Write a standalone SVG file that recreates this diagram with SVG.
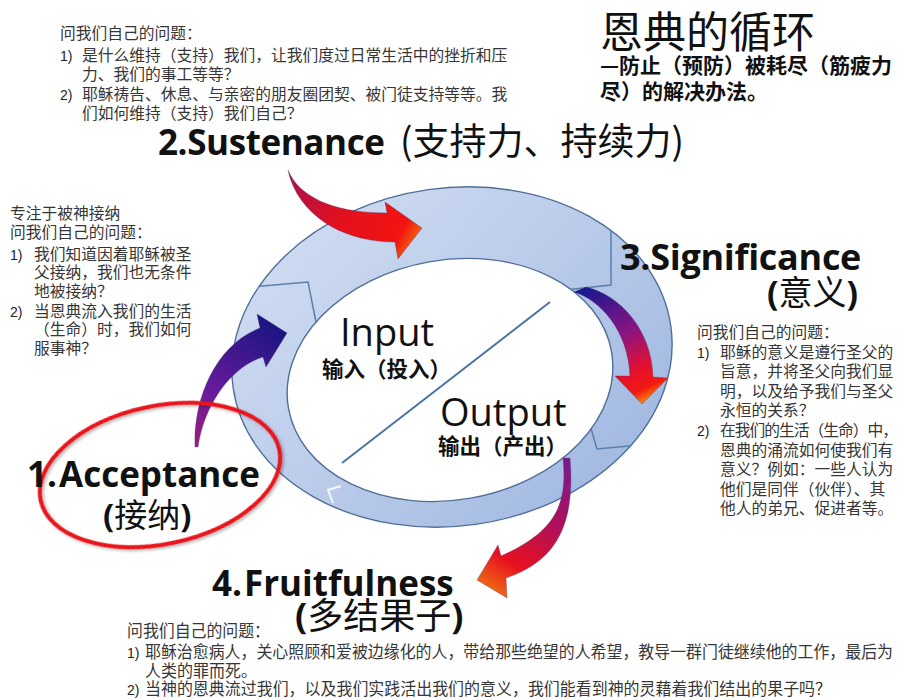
<svg xmlns="http://www.w3.org/2000/svg" width="900" height="699" viewBox="0 0 900 699">
  <defs>
    <linearGradient id="ringFill" x1="0" y1="0" x2="1" y2="1">
      <stop offset="0" stop-color="#d4dff2"/>
      <stop offset="0.5" stop-color="#bacbea"/>
      <stop offset="1" stop-color="#9ab3de"/>
    </linearGradient>
    <linearGradient id="gradAccept" gradientUnits="userSpaceOnUse" x1="196" y1="447" x2="285" y2="333">
      <stop offset="0" stop-color="#a01c7c"/>
      <stop offset="0.35" stop-color="#6a1c9c"/>
      <stop offset="1" stop-color="#1c1482"/>
    </linearGradient>
    <linearGradient id="gradSustain" gradientUnits="userSpaceOnUse" x1="288" y1="172" x2="420" y2="245">
      <stop offset="0" stop-color="#a8104c"/>
      <stop offset="0.45" stop-color="#e2101e"/>
      <stop offset="0.85" stop-color="#f21410"/>
      <stop offset="1" stop-color="#f27a12"/>
    </linearGradient>
    <linearGradient id="gradSignif" gradientUnits="userSpaceOnUse" x1="585" y1="290" x2="642" y2="404">
      <stop offset="0" stop-color="#1c1890"/>
      <stop offset="0.45" stop-color="#8c1482"/>
      <stop offset="0.75" stop-color="#e6102c"/>
      <stop offset="0.9" stop-color="#f21a10"/>
      <stop offset="1" stop-color="#f58a12"/>
    </linearGradient>
    <linearGradient id="gradFruit" gradientUnits="userSpaceOnUse" x1="566" y1="460" x2="485" y2="592">
      <stop offset="0" stop-color="#7c1a8c"/>
      <stop offset="0.4" stop-color="#b0105a"/>
      <stop offset="0.75" stop-color="#e81020"/>
      <stop offset="1" stop-color="#f07412"/>
    </linearGradient>
    <clipPath id="ringClip">
      <ellipse cx="452" cy="357" rx="221" ry="169" transform="rotate(-8 452 357)"/>
    </clipPath>
    <filter id="shadow" x="-20%" y="-20%" width="140%" height="140%">
      <feDropShadow dx="1.5" dy="2" stdDeviation="1.5" flood-color="#000" flood-opacity="0.3"/>
    </filter>
  </defs>
  <style>
    .body { font-family: "Noto Sans CJK SC", sans-serif; font-size: 15.75px; fill: #363636; }
    .cond { font-family: "Noto Sans CJK SC", sans-serif; font-size: 16.5px; fill: #363636; }
    .num { font-family: "Liberation Sans", sans-serif; font-size: 14px; fill: #222; }
    .label { font-family: "Open Sans", "Noto Sans CJK SC", sans-serif; font-weight: 700; fill: #111; }
    .cjk { font-family: "Noto Sans CJK SC", sans-serif; fill: #111; }
    .paren { font-family: "Open Sans", sans-serif; font-weight: 700; }
    .io { font-family: "Open Sans", sans-serif; font-size: 38px; fill: #111; }
    .seg { fill: none; stroke: #5a7fae; stroke-width: 1.5; }
    .rim { stroke: #4f6f98; stroke-width: 1.4; }
    .arrow { stroke: rgba(70, 60, 110, 0.45); stroke-width: 0.8; }
  </style>

  <rect width="900" height="699" fill="#fff"/>

  <!-- title -->
  <g id="title">
    <text class="cjk" x="600" y="48" font-size="43">恩典的循环</text>
    <text class="cjk" x="600" y="73" font-size="21" font-weight="700">—防止（预防）被耗尽（筋疲力</text>
    <text class="cjk" x="600" y="99" font-size="21" font-weight="700">尽）的解决办法。</text>
  </g>

  <!-- cycle ring -->
  <g id="ring">
    <ellipse cx="452" cy="357" rx="221" ry="169" transform="rotate(-8 452 357)" fill="url(#ringFill)" class="rim"/>
    <g clip-path="url(#ringClip)">
      <polyline class="seg" points="230,289 308,282 318,332"/>
      <polyline class="seg" points="611,225 611,285 565,290"/>
      <polyline class="seg" points="590,425 597,449 650,444"/>
    </g>
    <ellipse cx="450" cy="380" rx="164" ry="120" transform="rotate(-10 450 380)" fill="#fff" class="rim"/>
    <polyline points="341,486 328,490 333,503" fill="none" stroke="#fff" stroke-width="2" opacity="0.85"/>
  </g>

  <!-- input / output -->
  <g id="center">
    <line x1="342" y1="463" x2="550" y2="302" stroke="#4a74a8" stroke-width="2"/>
    <text class="io" x="340" y="346">Input</text>
    <text class="cjk" x="322" y="377" font-size="21.5" font-weight="700">输入（投入）</text>
    <text class="io" x="440" y="426">Output</text>
    <text class="cjk" x="438" y="454" font-size="21.5" font-weight="700">输出（产出）</text>
  </g>

  <!-- curved arrows between the stages -->
  <g id="connectors">
    <path class="arrow" fill="url(#gradAccept)" d="M195,447 C193,400 215,345 260,328 L257,314 L287,333 L266,367 L263,357 C235,365 205,400 198,447 Z"/>
    <path class="arrow" fill="url(#gradSustain)" d="M288,170 C298,195 330,213 387,213 L385,202 L422,228 L398,259 L395,242 C350,242 305,222 290,178 Z"/>
    <path class="arrow" fill="url(#gradSignif)" d="M574,292 C600,300 628,330 630,376 L615,376 L642,404 L668,378 L653,377 C652,330 620,295 586,287 Z"/>
    <path class="arrow" fill="url(#gradFruit)" d="M563,458 C567,500 560,530 501,556 L498,545 L477,580 L507,598 L506,578 C560,560 575,520 570,458 Z"/>
  </g>

  <!-- 1. Acceptance -->
  <g id="node-acceptance">
    <ellipse cx="160" cy="475" rx="122" ry="69" transform="rotate(-12 160 475)" fill="none" stroke="#e8151a" stroke-width="4" filter="url(#shadow)"/>
    <text class="label" x="27" y="487" font-size="35">1.</text>
    <text class="label" x="59" y="487" font-size="35">Acceptance</text>
    <text class="cjk" x="103" y="527" font-size="33"><tspan class="paren">(</tspan>接纳<tspan class="paren">)</tspan></text>
  </g>

  <!-- 2. Sustenance -->
  <g id="node-sustenance">
    <text class="label" x="158" y="155" font-size="35" letter-spacing="-0.4">2.Sustenance</text>
    <text class="cjk" x="400" y="155" font-size="37">(支持力、持续力)</text>
  </g>

  <!-- 3. Significance -->
  <g id="node-significance">
    <text class="label" x="620" y="270" font-size="36" letter-spacing="-0.3">3.Significance</text>
    <text class="cjk" x="858" y="305" font-size="34" text-anchor="end"><tspan class="paren">(</tspan>意义<tspan class="paren">)</tspan></text>
  </g>

  <!-- 4. Fruitfulness -->
  <g id="node-fruitfulness">
    <text class="label" x="212" y="596" font-size="35">4.</text>
    <text class="label" x="244" y="596" font-size="35">Fruitfulness</text>
    <text class="cjk" x="295" y="629" font-size="36"><tspan class="paren">(</tspan>多结果子<tspan class="paren">)</tspan></text>
  </g>

  <!-- questions: sustenance -->
  <g id="notes-sustenance">
    <text class="body" x="60" y="39">问我们自己的问题：</text>
    <text class="num" x="60" y="61">1)</text>
    <text class="body" x="82" y="61">是什么维持（支持）我们，让我们度过日常生活中的挫折和压</text>
    <text class="body" x="82" y="80">力、我们的事工等等？</text>
    <text class="num" x="60" y="100">2)</text>
    <text class="body" x="82" y="100">耶稣祷告、休息、与亲密的朋友圈团契、被门徒支持等等。我</text>
    <text class="body" x="82" y="119">们如何维持（支持）我们自己？</text>
  </g>

  <!-- questions: acceptance -->
  <g id="notes-acceptance">
    <text class="body" x="10" y="219">专注于被神接纳</text>
    <text class="body" x="10" y="238">问我们自己的问题：</text>
    <text class="num" x="10" y="260">1)</text>
    <text class="body" x="34" y="260">我们知道因着耶稣被圣</text>
    <text class="body" x="34" y="278">父接纳，我们也无条件</text>
    <text class="body" x="34" y="297">地被接纳？</text>
    <text class="num" x="10" y="317">2)</text>
    <text class="body" x="34" y="317">当恩典流入我们的生活</text>
    <text class="body" x="34" y="335">（生命）时，我们如何</text>
    <text class="body" x="34" y="354">服事神？</text>
  </g>

  <!-- questions: significance -->
  <g id="notes-significance">
    <text class="body" x="697" y="338">问我们自己的问题：</text>
    <text class="num" x="697" y="358">1)</text>
    <text class="body" x="720" y="358">耶稣的意义是遵行圣父的</text>
    <text class="body" x="720" y="377">旨意，并将圣父向我们显</text>
    <text class="body" x="720" y="397">明，以及给予我们与圣父</text>
    <text class="body" x="720" y="416">永恒的关系？</text>
    <text class="num" x="697" y="436">2)</text>
    <text class="body" x="720" y="436" textLength="178" lengthAdjust="spacing">在我们的生活（生命）中，</text>
    <text class="body" x="720" y="456">恩典的涌流如何使我们有</text>
    <text class="body" x="720" y="475">意义？例如：一些人认为</text>
    <text class="body" x="720" y="495">他们是同伴（伙伴）、其</text>
    <text class="body" x="720" y="514">他人的弟兄、促进者等。</text>
  </g>

  <!-- questions: fruitfulness -->
  <g id="notes-fruitfulness">
    <text class="cond" x="127" y="637" textLength="143" lengthAdjust="spacingAndGlyphs">问我们自己的问题：</text>
    <text class="num" x="127" y="658">1)</text>
    <text class="cond" x="145" y="658" textLength="748" lengthAdjust="spacingAndGlyphs">耶稣治愈病人，关心照顾和爱被边缘化的人，带给那些绝望的人希望，教导一群门徒继续他的工作，最后为</text>
    <text class="cond" x="145" y="677" textLength="112" lengthAdjust="spacingAndGlyphs">人类的罪而死。</text>
    <text class="num" x="127" y="695">2)</text>
    <text class="cond" x="145" y="695" textLength="686" lengthAdjust="spacingAndGlyphs">当神的恩典流过我们，以及我们实践活出我们的意义，我们能看到神的灵藉着我们结出的果子吗？</text>
  </g>
</svg>
